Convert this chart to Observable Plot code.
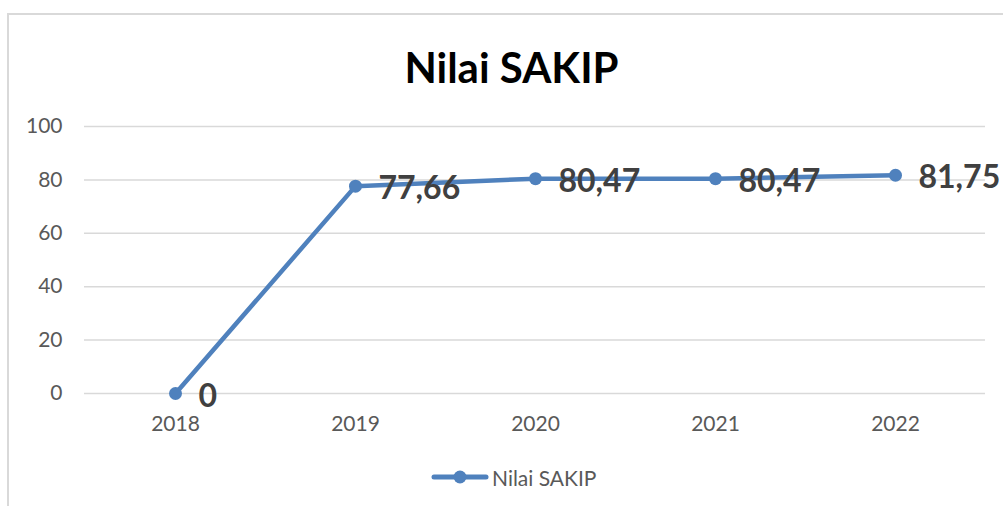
<!DOCTYPE html>
<html>
<head>
<meta charset="utf-8">
<script src="https://cdn.jsdelivr.net/npm/d3@7"></script>
<script src="https://cdn.jsdelivr.net/npm/@observablehq/plot@0.6"></script>
<style>
  html, body { margin: 0; padding: 0; background: #fff; }
  #wrap { position: relative; width: 1003px; height: 506px; overflow: hidden; font-family: Lato, "Open Sans", sans-serif; }
  #frameTop { position: absolute; left: 7px; top: 13px; width: 996px; height: 2px; background: #d9d9d9; }
  #frameLeft { position: absolute; left: 7px; top: 13px; width: 2px; height: 493px; background: #d9d9d9; }
  #title { position: absolute; left: 0; width: 1023px; top: 42px; text-align: center; font-weight: bold; font-size: 42px; color: #000; line-height: 50px; }
  #legend { position: absolute; left: 430px; top: 464px; height: 26px; display: flex; align-items: center; font-size: 21px; color: #595959; }
  #chart { position: absolute; left: 0; top: 0; }
</style>
</head>
<body>
<div id="wrap">
  <div id="chart"></div>
  <div id="frameTop"></div>
  <div id="frameLeft"></div>
  <div id="title">Nilai SAKIP</div>
  <div id="legend"><svg width="60" height="26"><line x1="4" y1="13" x2="56" y2="13" stroke="#4f81bd" stroke-width="5" stroke-linecap="round"/><circle cx="30" cy="13" r="6.5" fill="#4f81bd"/></svg><span style="margin-left:2px">Nilai SAKIP</span></div>
</div>
<script>
const years = ["2018", "2019", "2020", "2021", "2022"];
const values = [0, 77.66, 80.47, 80.47, 81.75];
const labels = ["0", "77,66", "80,47", "80,47", "81,75"];
const yTicks = [0, 20, 40, 60, 80, 100];

const data = years.map((y, i) => ({year: y, value: values[i], label: labels[i]}));
const blue = "#4f81bd";

const chart = Plot.plot({
  width: 1003,
  height: 506,
  marginTop: 126,
  marginBottom: 113,
  marginLeft: 84,
  marginRight: 18,
  style: {fontFamily: "Lato, 'Open Sans', sans-serif", fontSize: "21px", color: "#595959", background: "transparent", overflow: "visible"},
  x: {type: "point", domain: years, padding: 0.5, label: null},
  y: {domain: [0, 100], label: null},
  marks: [
    Plot.ruleY(yTicks, {stroke: "#d9d9d9", strokeWidth: 1.5}),
    Plot.axisY({ticks: yTicks, tickSize: 0, tickPadding: 22, label: null, fill: "#595959"}),
    Plot.axisX({tickSize: 0, tickPadding: 23, label: null, fill: "#595959"}),
    Plot.line(data, {x: "year", y: "value", stroke: blue, strokeWidth: 4.5, strokeLinejoin: "round"}),
    Plot.dot(data, {x: "year", y: "value", r: 6.5, fill: blue, stroke: "none"}),
    Plot.text(data, {x: "year", y: "value", text: "label", dx: 23, dy: 3, textAnchor: "start", fontSize: 32, fontWeight: "bold", fill: "#404040"})
  ]
});
document.getElementById("chart").appendChild(chart);
</script>
</body>
</html>
